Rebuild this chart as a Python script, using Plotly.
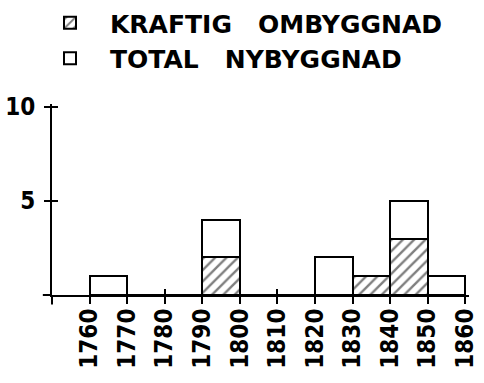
import plotly.graph_objects as go

# Decade bins (start year) and number of buildings per bin
decades = [1760, 1770, 1780, 1790, 1800, 1810, 1820, 1830, 1840, 1850]
kraftig_ombyggnad = [0, 0, 0, 2, 0, 0, 0, 1, 3, 0]
total_nybyggnad = [1, 0, 0, 2, 0, 0, 2, 0, 2, 1]

x_ticks = list(range(1760, 1861, 10))
y_ticks = [5, 10]

FONT = "DejaVu Sans Condensed, DejaVu Sans"
LEGEND_FONT = "DejaVu Sans"
INK = "black"
GAP = "\u00a0" * 3

fig = go.Figure()
fig.add_trace(go.Bar(
    x=decades, y=kraftig_ombyggnad, width=10, offset=0,
    name="KRAFTIG" + GAP + "OMBYGGNAD",
    marker=dict(color="white", line=dict(color=INK, width=2),
                pattern=dict(shape="/", fgcolor=INK, bgcolor="white",
                             size=8, solidity=0.3)),
))
fig.add_trace(go.Bar(
    x=decades, y=total_nybyggnad, width=10, offset=0,
    name="TOTAL" + GAP + "NYBYGGNAD",
    marker=dict(color="white", line=dict(color=INK, width=2)),
))

# invisible helper trace carrying the inward half of the crossing ticks
fig.add_trace(go.Scatter(x=[None], y=[None], xaxis="x2", yaxis="y2",
                         showlegend=False, hoverinfo="skip"))

x_range = [1750, 1861]
y_range = [0, 10.16]

fig.update_layout(
    width=484, height=383,
    margin=dict(l=52, r=15, t=104, b=88, autoexpand=False),
    paper_bgcolor="white", plot_bgcolor="white",
    barmode="stack", bargap=0,
    font=dict(family=FONT, color=INK),
    legend=dict(
        x=30 / 484, y=1.0, xref="container", yref="container",
        xanchor="left", yanchor="top",
        traceorder="normal",
        font=dict(family=LEGEND_FONT, size=25, color=INK, weight="bold"),
        itemwidth=70, tracegroupgap=0,
        bgcolor="rgba(0,0,0,0)",
    ),
    xaxis=dict(
        range=x_range, tickvals=x_ticks, ticktext=[str(v) for v in x_ticks],
        tickangle=-90, ticks="outside", ticklen=7, tickwidth=2, tickcolor=INK,
        showline=True, linecolor=INK, linewidth=2, showgrid=False,
        zeroline=False, ticklabelstandoff=-5, automargin=False,
        tickfont=dict(family=FONT, size=24, color=INK, weight="bold"),
    ),
    yaxis=dict(
        range=y_range, tickvals=y_ticks, ticktext=[str(v) for v in y_ticks],
        ticks="outside", ticklen=6, tickwidth=2, tickcolor=INK,
        showline=True, linecolor=INK, linewidth=2, showgrid=False,
        zeroline=False, ticklabelstandoff=4, automargin=False,
        tickfont=dict(family=FONT, size=24, color=INK, weight="bold"),
    ),
    xaxis2=dict(
        range=x_range, tickvals=x_ticks, showticklabels=False,
        ticks="inside", ticklen=6, tickwidth=2, tickcolor=INK,
        overlaying="x", anchor="y2", side="bottom",
        showgrid=False, zeroline=False, showline=False, automargin=False,
    ),
    yaxis2=dict(
        range=y_range, tickvals=y_ticks, showticklabels=False,
        ticks="inside", ticklen=6, tickwidth=2, tickcolor=INK,
        overlaying="y", anchor="x2", side="left",
        showgrid=False, zeroline=False, showline=False, automargin=False,
    ),
    shapes=[
        # axis lines run a little past the origin
        dict(type="line", xref="paper", yref="paper", x0=0, x1=0,
             y0=0, y1=-0.05, line=dict(color=INK, width=2)),
        dict(type="line", xref="paper", yref="paper", x0=-0.022, x1=0,
             y0=0, y1=0, line=dict(color=INK, width=2)),
    ],
)

fig.write_html("out.html")
